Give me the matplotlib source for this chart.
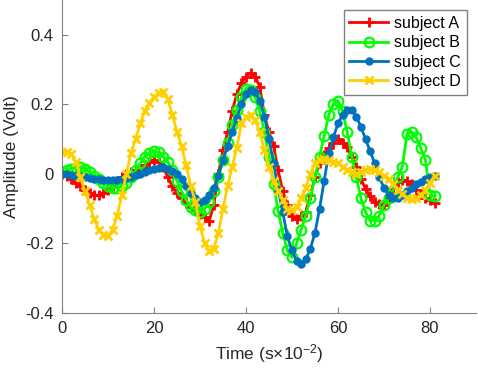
import numpy as np
import matplotlib.pyplot as plt

plt.rcParams['font.family'] = ['Liberation Sans', 'DejaVu Sans']
plt.rcParams['mathtext.fontset'] = 'custom'
plt.rcParams['mathtext.rm'] = 'Liberation Sans'
plt.rcParams['mathtext.it'] = 'Liberation Sans:italic'
plt.rcParams['axes.unicode_minus'] = False

# time axis (s x 10^-2)
t = np.arange(0, 82)

subject_a = [0.0, -0.005, -0.015, -0.025, -0.035, -0.045, -0.055, -0.06, -0.062, -0.055,
             -0.045, -0.035, -0.02, -0.01, 0.0, 0.005, 0.01, 0.015, 0.025, 0.035,
             0.04, 0.035, 0.02, -0.01, -0.035, -0.055, -0.07, -0.085, -0.095, -0.105,
             -0.115, -0.125, -0.135, -0.09, 0.0, 0.07, 0.12, 0.18, 0.23, 0.26,
             0.28, 0.29, 0.28, 0.25, 0.17, 0.12, 0.08, 0.01, -0.05, -0.09,
             -0.12, -0.13, -0.12, -0.11, -0.06, -0.01, 0.03, 0.055, 0.075, 0.09,
             0.1, 0.09, 0.078, 0.05, 0.02, -0.015, -0.043, -0.065, -0.08, -0.088,
             -0.09, -0.07, -0.04, -0.022, -0.018, -0.02, -0.03, -0.045, -0.058, -0.068,
             -0.075, -0.085]

subject_b = [0.005, 0.01, 0.015, 0.018, 0.02, 0.015, 0.005, -0.005, -0.015, -0.025,
             -0.035, -0.04, -0.04, -0.035, -0.025, -0.01, 0.01, 0.03, 0.05, 0.06,
             0.065, 0.062, 0.05, 0.035, 0.01, -0.02, -0.05, -0.075, -0.095, -0.105,
             -0.11, -0.1, -0.08, -0.05, -0.01, 0.04, 0.09, 0.14, 0.185, 0.22,
             0.245, 0.24, 0.22, 0.18, 0.12, 0.05, -0.03, -0.107, -0.17, -0.22,
             -0.24, -0.2, -0.16, -0.12, -0.07, -0.01, 0.05, 0.11, 0.17, 0.2,
             0.21, 0.18, 0.12, 0.05, -0.01, -0.07, -0.11, -0.135, -0.135, -0.12,
             -0.09, -0.07, -0.045, -0.01, 0.02, 0.115, 0.12, 0.105, 0.075, 0.04,
             -0.06, -0.065]

subject_c = [0.0, 0.0, -0.002, -0.005, -0.007, -0.01, -0.012, -0.014, -0.016, -0.017,
             -0.018, -0.018, -0.017, -0.015, -0.012, -0.008, -0.004, 0.0, 0.005, 0.01,
             0.013, 0.017, 0.019, 0.015, 0.008, 0.0, -0.015, -0.035, -0.055, -0.07,
             -0.08, -0.075, -0.06, -0.04, -0.005, 0.04, 0.08, 0.12, 0.16, 0.2,
             0.23, 0.24, 0.235, 0.21, 0.165, 0.1, 0.03, -0.045, -0.11, -0.18,
             -0.22, -0.25, -0.26, -0.245, -0.215, -0.17, -0.1, -0.02, 0.06, 0.105,
             0.145, 0.17, 0.185, 0.185, 0.165, 0.135, 0.1, 0.065, 0.03, -0.01,
             -0.04, -0.06, -0.07, -0.068, -0.06, -0.05, -0.04, -0.03, -0.022, -0.015,
             -0.01, -0.005]

subject_d = [0.063, 0.064, 0.058, 0.035, -0.01, -0.05, -0.09, -0.13, -0.16, -0.175,
             -0.178, -0.16, -0.12, -0.06, 0.0, 0.06, 0.1, 0.145, 0.18, 0.205,
             0.222, 0.232, 0.235, 0.215, 0.17, 0.12, 0.08, 0.025, -0.035, -0.08,
             -0.15, -0.2, -0.222, -0.215, -0.17, -0.1, -0.035, 0.02, 0.075, 0.145,
             0.165, 0.168, 0.155, 0.12, 0.07, 0.02, -0.02, -0.05, -0.075, -0.1,
             -0.105, -0.095, -0.07, -0.04, 0.0, 0.03, 0.04, 0.043, 0.04, 0.035,
             0.03, 0.02, 0.01, 0.005, 0.0, 0.005, 0.012, 0.015, 0.012, 0.005,
             -0.005, -0.015, -0.03, -0.045, -0.058, -0.068, -0.072, -0.07, -0.062, -0.045,
             -0.025, -0.005]

fig = plt.figure(figsize=(4.78, 3.72), dpi=100)
ax = fig.add_axes([0.1297, 0.1586, 0.866, 0.8414])

ax.plot(t, subject_a, color='#ff0000', lw=2, marker='+', ms=7, mew=2, label='subject A')
ax.plot(t, subject_b, color='#00ff00', lw=2, marker='o', ms=7, mew=1.6, mfc='none', label='subject B')
ax.plot(t, subject_c, color='#0072bd', lw=2, marker='o', ms=5, mew=1, label='subject C')
ax.plot(t, subject_d, color='#ffd000', lw=2, marker='x', ms=6, mew=2, label='subject D')

ax.set_xlim(0, 90)
ax.set_ylim(-0.4, 0.5)
ax.set_xticks([0, 20, 40, 60, 80])
ax.set_yticks([-0.4, -0.2, 0, 0.2, 0.4])
ax.set_yticklabels(['-0.4', '-0.2', '0', '0.2', '0.4'])

for s in ['top', 'right']:
    ax.spines[s].set_visible(False)
for s in ['left', 'bottom']:
    ax.spines[s].set_color('#808080')
ax.tick_params(direction='in', length=4, color='#808080', labelsize=12, labelcolor='#262626', pad=6)

ax.set_xlabel('Time (s$\\times$10$^{-2}$)', fontsize=12.5, color='#262626')
ax.set_ylabel('Amplitude (Volt)', fontsize=12.5, color='#262626')

leg = ax.legend(loc='upper right', bbox_to_anchor=(0.985, 0.978), fontsize=11.5, fancybox=False,
                framealpha=1, edgecolor='#808080', handlelength=2.4, borderpad=0.35,
                labelspacing=0.28, handletextpad=0.4, borderaxespad=0.2)
leg.get_frame().set_linewidth(1)

fig.savefig('out.png', dpi=100)
